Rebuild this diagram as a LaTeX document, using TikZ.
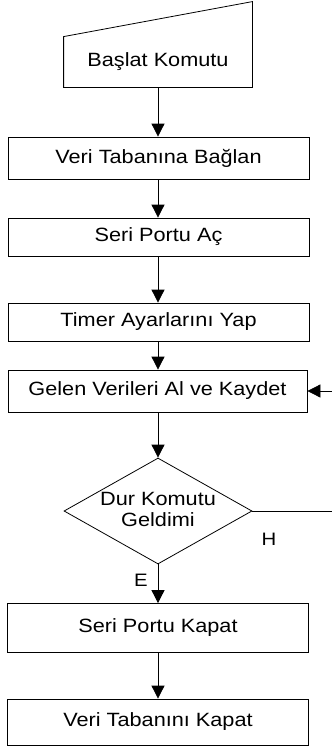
\documentclass[tikz,border=0pt]{standalone}
\usepackage{fontspec}
\setmainfont{Liberation Sans}[FakeStretch=1.13]
\usetikzlibrary{arrows.meta,shapes.geometric}
\begin{document}
\begin{tikzpicture}[x=1pt,y=-1pt,
  line width=0.8pt,
  every node/.style={font=\fontsize{19.2}{21}\selectfont},
  procbox/.style={draw, rectangle, minimum width=301pt, inner sep=0pt, align=center},
  flow/.style={-{Triangle[length=13pt,width=13pt]}},
  lbl/.style={inner sep=0pt, font=\fontsize{18}{20}\selectfont}]
\useasboundingbox (0,0) rectangle (332,747);

% manual input: start command
\node[rectangle, minimum width=188pt, minimum height=50pt, inner sep=0pt] (start) at (158,62) {Başlat Komutu};
\draw (start.south west) -- (start.south east) -- ([yshift=35pt]start.north east) -- (start.north west) -- cycle;

% process steps
\node[procbox, minimum height=42pt] (db)    at (158.5,158) {Veri Tabanına Bağlan};
\node[procbox, minimum height=38pt] (port)  at (158.5,237) {Seri Portu Aç};
\node[procbox, minimum height=38pt] (timer) at (158.5,322) {Timer Ayarlarını Yap};
\node[procbox, minimum width=299pt, minimum height=42pt] (recv) at (157.5,391) {Gelen Verileri Al ve Kaydet};

% decision
\node[diamond, draw, aspect=1.77, minimum width=188pt, minimum height=106pt, inner sep=0pt] (dec) at (158,511) {};
\node[align=center, inner sep=0pt] (dectext) at (158,509) {Dur Komutu\\Geldimi};

\node[procbox, minimum height=49pt] (close) at (158,628) {Seri Portu Kapat};
\node[procbox, minimum height=46pt] (dbclose) at (158,722) {Veri Tabanını Kapat};

% connectors
\draw[flow] (start.south) -- (db.north -| start.south);
\draw[flow] (db.south -| start.south) -- (port.north -| start.south);
\draw[flow] (port.south -| start.south) -- (timer.north -| start.south);
\draw[flow] (timer.south -| start.south) -- (recv.north -| start.south);
\draw[flow] (recv.south -| start.south) -- (dec.north);
\draw[flow] (dec.south) -- (close.north -| dec.south);
\draw[flow] (close.south -| dec.south) -- (dbclose.north -| dec.south);

% loop back when no stop command
\coordinate (loopout) at (332,511);
\coordinate (loopin) at (332,391);
\draw (dec.east) -- (loopout);
\draw[flow] (loopin) -- (recv.east);

\node[lbl] (no)  at (269,539) {H};
\node[lbl] (yes) at (141,580) {E};
\end{tikzpicture}
\end{document}
